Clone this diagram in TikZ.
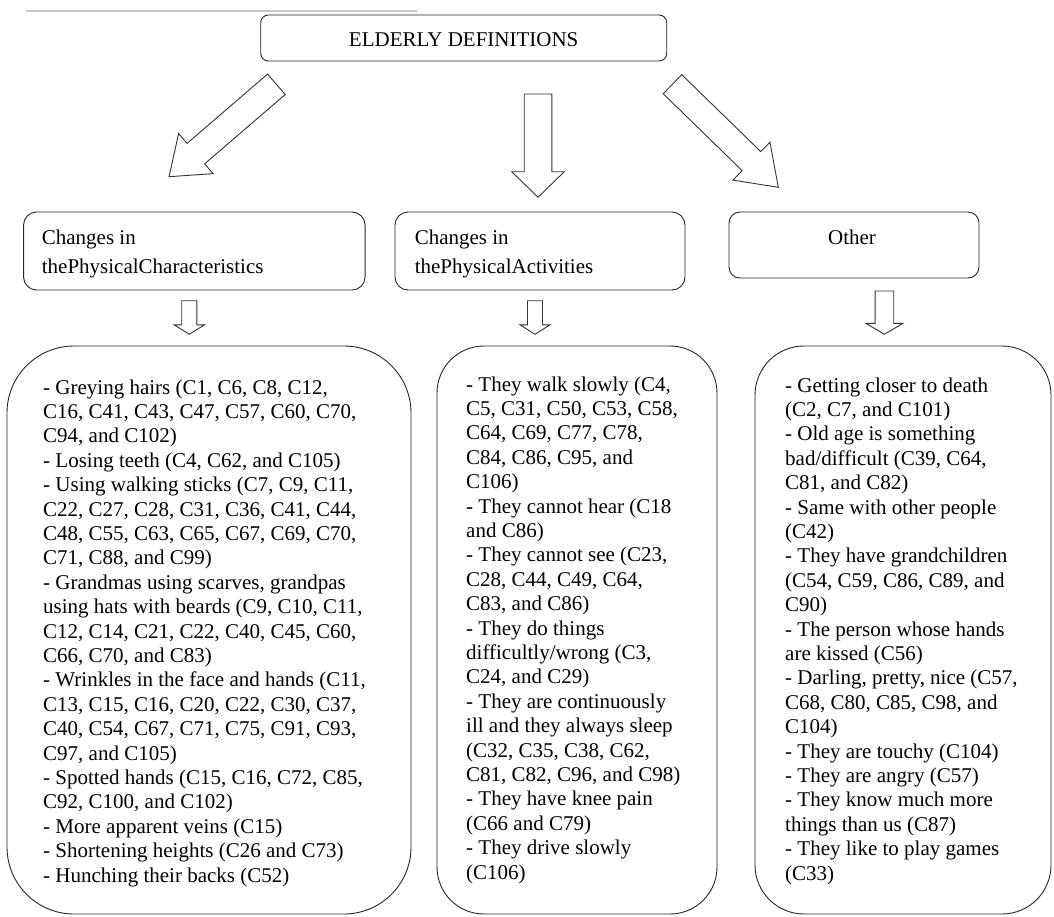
\documentclass[tikz,border=0pt]{standalone}
\usepackage{fontspec}
\setmainfont{Liberation Serif}
\usetikzlibrary{calc}
% block arrow: #1 tail, #2 tip, #3 shaft half width, #4 head half width, #5 head length
\newcommand{\blockarr}[5]{%
  \path ($(#2)!#5!(#1)$) coordinate (bah);
  \draw[barrow] ($(#1)!#3!90:(#2)$) -- ($(bah)!#3!-90:(#1)$) -- ($(bah)!#4!-90:(#1)$)
    -- (#2) -- ($(bah)!#4!90:(#1)$) -- ($(bah)!#3!90:(#1)$) -- ($(#1)!#3!-90:(#2)$) -- cycle;}
\begin{document}
\begin{tikzpicture}[x=1pt,y=-1pt,
  box/.style={draw=black!85, line width=0.9pt, inner sep=0pt},
  barrow/.style={draw=black!80, line width=0.9pt, line join=miter},
  body/.style={font=\fontsize{21}{24.4}\selectfont, align=left, inner sep=0pt, anchor=north west},
  headtxt/.style={font=\fontsize{21}{29}\selectfont, align=left, inner sep=0pt, anchor=north west}]
\useasboundingbox (0,0) rectangle (1054,916);

% top grey rule
\draw[black!22, line width=2.5pt] (25.5,11) -- (416.6,11);

% title
\node[box, rounded corners=7.7pt, minimum width=406pt, minimum height=46pt] (title) at (463.7,38) {};
\node[font=\fontsize{21}{24.4}\selectfont, anchor=base, inner sep=0pt] (titletxt) at (463.7,46) {ELDERLY DEFINITIONS};

% level 2 boxes
\node[box, rounded corners=13pt, minimum width=341.5pt, minimum height=78pt] (phys) at (194.3,251) {};
\node[headtxt] (physt) at (41.7,224.2) {\strut Changes in\\thePhysicalCharacteristics};
\node[box, rounded corners=13pt, minimum width=290pt, minimum height=78pt] (act) at (540,251) {};
\node[headtxt] (actt) at (414.6,224.2) {\strut Changes in\\thePhysicalActivities};
\node[box, rounded corners=11pt, minimum width=250pt, minimum height=66pt] (oth) at (854,245) {};
\node[font=\fontsize{21}{29}\selectfont, anchor=base, inner sep=0pt] (otht) at (852,244.5) {Other};

% level 3 boxes
\node[box, rounded corners=67pt, minimum width=404pt, minimum height=568pt] (physl) at (209,630) {};
\node[box, rounded corners=47pt, minimum width=280pt, minimum height=568pt] (actl) at (577,630) {};
\node[box, rounded corners=49pt, minimum width=296pt, minimum height=568pt] (othl) at (903,630) {};

% big arrows
\coordinate (a1t) at (276.4,84.3);  \coordinate (a1h) at (169,176.7);
\coordinate (a2t) at (538,94);      \coordinate (a2h) at (538,197.3);
\coordinate (a3t) at (672.5,84.2);  \coordinate (a3h) at (778.3,187.3);
\blockarr{a1t}{a1h}{13.5pt}{26.4pt}{35.4pt}
\blockarr{a2t}{a2h}{13.8pt}{26.3pt}{25.6pt}
\blockarr{a3t}{a3h}{13.3pt}{26.5pt}{37.5pt}

% small arrows
\coordinate (s1t) at (189.3,300.7); \coordinate (s1h) at (189.3,334.3);
\coordinate (s2t) at (535,300.7);   \coordinate (s2h) at (535,334.3);
\coordinate (s3t) at (884.4,291);   \coordinate (s3h) at (884.4,334.3);
\blockarr{s1t}{s1h}{7.6pt}{15.2pt}{9.5pt}
\blockarr{s2t}{s2h}{7.5pt}{15pt}{9.5pt}
\blockarr{s3t}{s3h}{9.3pt}{18.5pt}{11pt}

% texts
\node[body] (physx) at (43,376.9) {\strut - Greying hairs (C1, C6, C8, C12,\\
C16, C41, C43, C47, C57, C60, C70,\\
C94, and C102)\\
- Losing teeth (C4, C62, and C105)\\
- Using walking sticks (C7, C9, C11,\\
C22, C27, C28, C31, C36, C41, C44,\\
C48, C55, C63, C65, C67, C69, C70,\\
C71, C88, and C99)\\
- Grandmas using scarves, grandpas\\
using hats with beards (C9, C10, C11,\\
C12, C14, C21, C22, C40, C45, C60,\\
C66, C70, and C83)\\
- Wrinkles in the face and hands (C11,\\
C13, C15, C16, C20, C22, C30, C37,\\
C40, C54, C67, C71, C75, C91, C93,\\
C97, and C105)\\
- Spotted hands (C15, C16, C72, C85,\\
C92, C100, and C102)\\
- More apparent veins (C15)\\
- Shortening heights (C26 and C73)\\
- Hunching their backs (C52)};

\node[body] (actx) at (466,373.9) {\strut - They walk slowly (C4,\\
C5, C31, C50, C53, C58,\\
C64, C69, C77, C78,\\
C84, C86, C95, and\\
C106)\\
- They cannot hear (C18\\
and C86)\\
- They cannot see (C23,\\
C28, C44, C49, C64,\\
C83, and C86)\\
- They do things\\
difficultly/wrong (C3,\\
C24, and C29)\\
- They are continuously\\
ill and they always sleep\\
(C32, C35, C38, C62,\\
C81, C82, C96, and C98)\\
- They have knee pain\\
(C66 and C79)\\
- They drive slowly\\
(C106)};

\node[body] (othx) at (785,374.9) {\strut - Getting closer to death\\
(C2, C7, and C101)\\
- Old age is something\\
bad/difficult (C39, C64,\\
C81, and C82)\\
- Same with other people\\
(C42)\\
- They have grandchildren\\
(C54, C59, C86, C89, and\\
C90)\\
- The person whose hands\\
are kissed (C56)\\
- Darling, pretty, nice (C57,\\
C68, C80, C85, C98, and\\
C104)\\
- They are touchy (C104)\\
- They are angry (C57)\\
- They know much more\\
things than us (C87)\\
- They like to play games\\
(C33)};
\end{tikzpicture}
\end{document}
